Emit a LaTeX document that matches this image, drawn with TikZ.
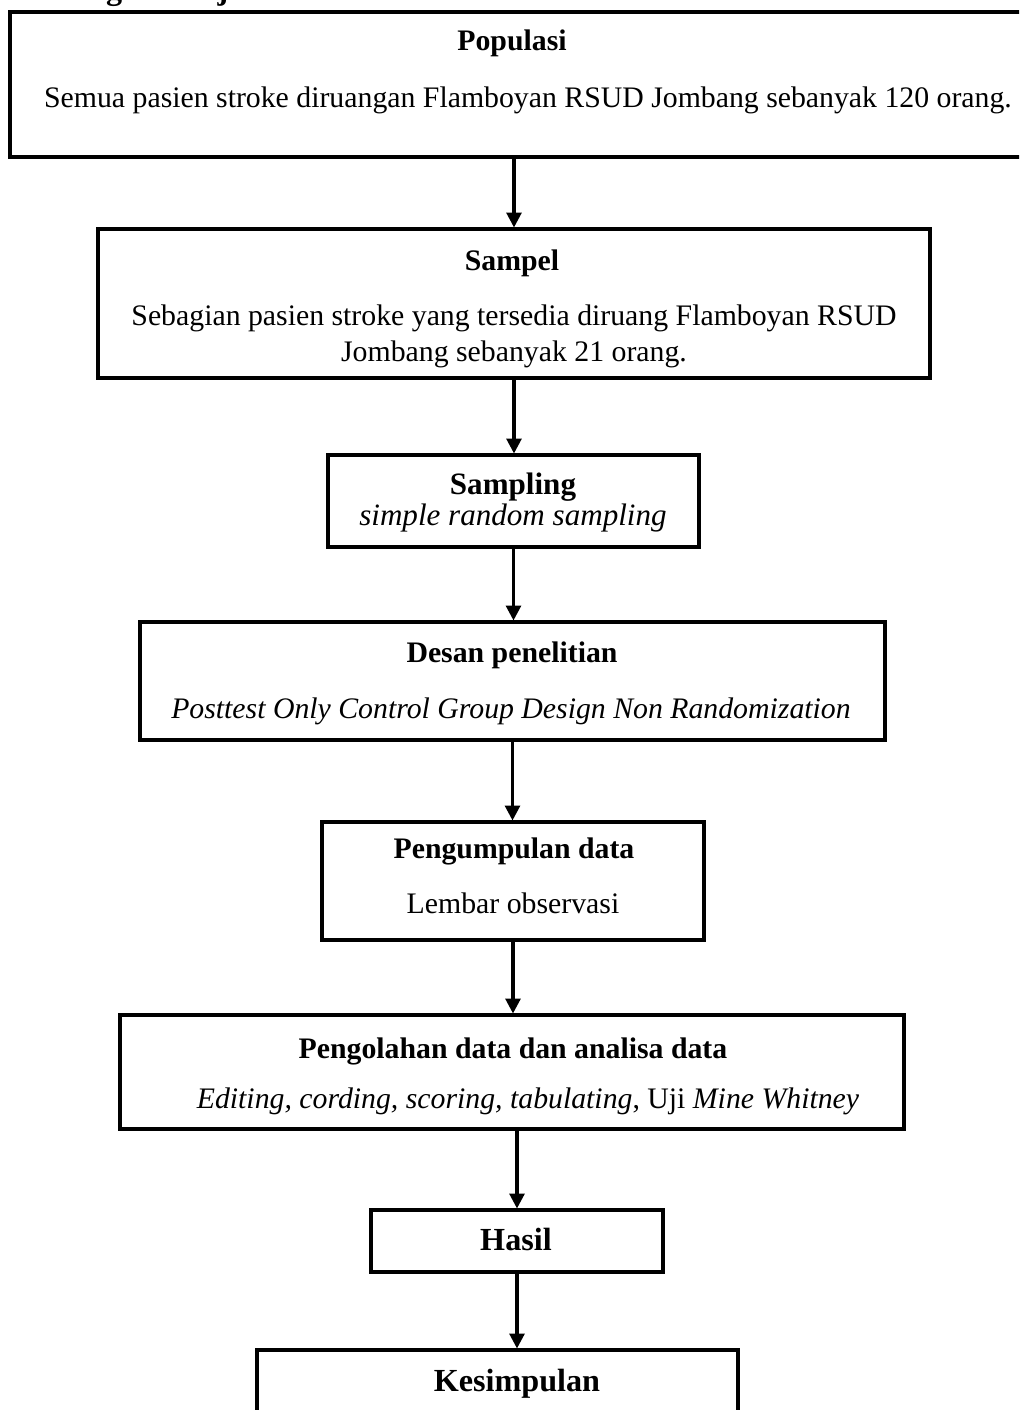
\documentclass[tikz,border=0pt]{standalone}
\usepackage{fontspec}
\setmainfont{Liberation Serif}
\usetikzlibrary{positioning, arrows.meta}
\newcommand{\px}{0.46pt}
\tikzstyle{Box} = [draw, rectangle, line width=1.4pt, inner sep=0pt]
\tikzstyle{Arrow} = [line width=1.4pt, -{Triangle[width=6.8pt, length=6.8pt]}]
\tikzstyle{Head} = [inner sep=0pt, anchor=base, font=\fontsize{13.7}{16}\selectfont\bfseries]
\tikzstyle{Body} = [inner sep=0pt, anchor=base, font=\fontsize{13.7}{16}\selectfont]
\tikzstyle{MidHead} = [inner sep=0pt, anchor=base, font=\fontsize{14.3}{16}\selectfont\bfseries]
\tikzstyle{MidBody} = [inner sep=0pt, anchor=base, font=\fontsize{14.3}{16}\selectfont\itshape]
\tikzstyle{BigHead} = [inner sep=0pt, anchor=base, font=\fontsize{14.8}{17}\selectfont\bfseries]

\begin{document}
\begin{tikzpicture}[x=\px, y=-\px]
    \clip (0,0) rectangle (1019,1410);

    % heading of the page, cut off at the top
    \node[BigHead, anchor=base west] (0) at (18,-1) {Kerangka Kerja};

    \node[Box, minimum width=1030*\px, minimum height=145*\px] (1) at (525,84.5) {};
    \node[Head] (1a) at (512,50) {Populasi};
    \node[Body] (1b) at (528,107) {Semua pasien stroke diruangan Flamboyan RSUD Jombang sebanyak 120 orang.};

    \node[Box, minimum width=832*\px, minimum height=149*\px] (2) at (514,303.5) {};
    \node[Head] (2a) at (512,270) {Sampel};
    \node[Body] (2b) at (514,325) {Sebagian pasien stroke yang tersedia diruang Flamboyan RSUD};
    \node[Body] (2c) at (514,361) {Jombang sebanyak 21 orang.};

    \node[Box, minimum width=371*\px, minimum height=92*\px] (3) at (513.5,501) {};
    \node[MidHead] (3a) at (513,494) {Sampling};
    \node[MidBody] (3b) at (513,525) {simple random sampling};

    \node[Box, minimum width=745*\px, minimum height=118*\px] (4) at (512.5,681) {};
    \node[Head] (4a) at (512,662) {Desan penelitian};
    \node[Body] (4b) at (511,718) {\itshape Posttest Only Control Group Design Non Randomization};

    \node[Box, minimum width=382*\px, minimum height=118*\px] (5) at (513,881) {};
    \node[Head] (5a) at (514,858) {Pengumpulan data};
    \node[Body] (5b) at (513,913) {Lembar observasi};

    \node[Box, minimum width=784*\px, minimum height=114*\px] (6) at (512,1072) {};
    \node[Head] (6a) at (513,1058) {Pengolahan data dan analisa data};
    \node[Body] (6b) at (528,1108) {\textit{Editing, cording, scoring, tabulating}, Uji \textit{Mine Whitney}};

    \node[Box, minimum width=292*\px, minimum height=62*\px] (7) at (517,1241) {};
    \node[BigHead] (7a) at (516,1250) {Hasil};

    \node[Box, minimum width=481*\px, minimum height=120*\px] (8) at (497.5,1410) {};
    \node[BigHead] (8a) at (517,1391) {Kesimpulan};

    \draw[Arrow] (2.north |- 1.south) -- (2.north);
    \draw[Arrow] (2.south) -- (2.south |- 3.north);
    \draw[Arrow] (3.south) -- (3.south |- 4.north);
    \draw[Arrow] (4.south) -- (4.south |- 5.north);
    \draw[Arrow] (5.south) -- (5.south |- 6.north);
    \draw[Arrow] (7.north |- 6.south) -- (7.north);
    \draw[Arrow] (7.south) -- (7.south |- 8.north);
\end{tikzpicture}
\end{document}
